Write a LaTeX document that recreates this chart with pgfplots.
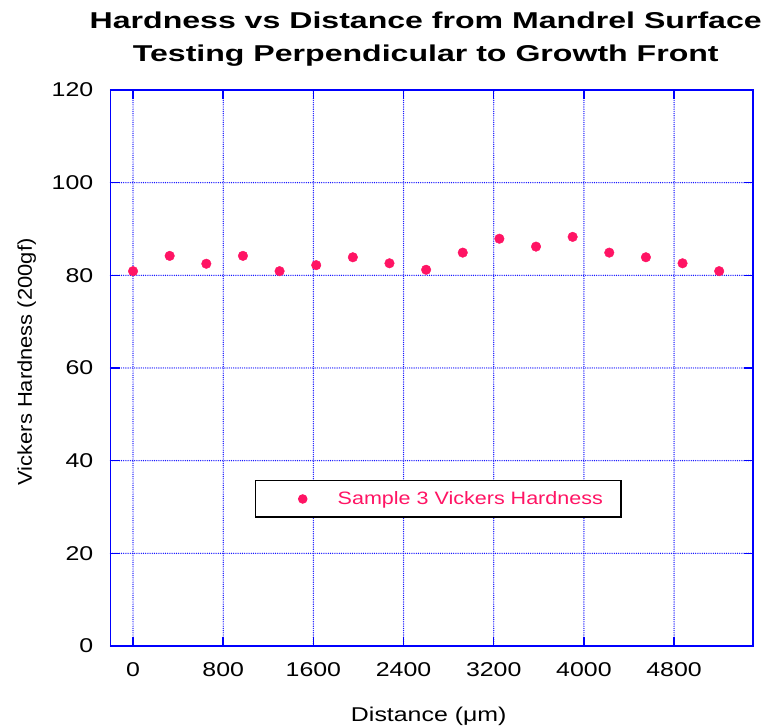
\documentclass[border=0pt]{standalone}
\usepackage{fontspec}
\setmainfont{Liberation Sans}[FakeStretch=1.25]
\newfontfamily\titlefont{Liberation Sans}[FakeStretch=1.4]
\newfontfamily\legfont{Liberation Sans}[FakeStretch=1.2]
\newfontfamily\ylabfont{Liberation Sans}[FakeStretch=1.1]
\usepackage{pgfplots}
\pgfplotsset{compat=1.18}
\definecolor{axblue}{RGB}{0,0,255}
\definecolor{gridblue}{RGB}{20,20,255}
\definecolor{ptpink}{RGB}{255,20,100}
\begin{document}
\begin{tikzpicture}
\path[use as bounding box] (0,0) rectangle (765bp,728bp);
\begin{axis}[
  at={(110.5bp,82bp)}, anchor=south west,
  scale only axis, width=642.5bp, height=556bp,
  xmin=-200, xmax=5500, ymin=0, ymax=120,
  xtick={0,800,...,4800}, ytick={0,20,...,120},
  grid=major,
  major grid style={draw=gridblue, line width=1.4bp, line cap=round, dash pattern=on 0bp off 2.2bp},
  axis line style={draw=axblue, line width=1.8bp},
  tick style={draw=axblue, line width=1.5bp},
  major tick length=9bp,
  tick align=inside,
  ticklabel style={font=\fontsize{20}{24}\selectfont},
  /pgf/number format/assume math mode=true,
  /pgf/number format/1000 sep={},
  xticklabel style={inner sep=0pt, anchor=north, yshift=-16bp},
  yticklabel style={inner sep=0pt, anchor=east, xshift=-17bp},
  title={Hardness vs Distance from Mandrel Surface\\Testing Perpendicular to Growth Front},
  title style={at={(axis description cs:0.5,1.031)}, anchor=south, inner sep=0pt, align=center, font=\titlefont\bfseries\fontsize{23}{33}\selectfont, xshift=-6bp},
  xlabel={Distance (μm)},
  xlabel style={at={(axis description cs:0.5,-0.1349)}, anchor=base, font=\fontsize{20}{24}\selectfont, xshift=-3bp},
  ylabel={Vickers Hardness (200gf)},
  ylabel style={at={(axis description cs:-0.1222,0.5108)}, anchor=base, font=\ylabfont\fontsize{20}{24}\selectfont},
  legend style={at={(0.2249,0.2986)}, anchor=north west, draw=black, line width=1.5bp, fill=white, inner xsep=0pt, inner ysep=11bp, nodes={inner sep=0pt, text=ptpink, font=\legfont\fontsize{18}{21}\selectfont}},
  legend image code/.code={\path[draw=none] (0bp,0bp) -- (82bp,0bp); \fill[ptpink, draw=none] (47bp,0bp) circle (4.8bp);},
]
\addplot[only marks, mark=*, mark size=4.8bp, color=ptpink] coordinates {
(0,80.9) (325,84.2) (650,82.5) (975,84.2) (1300,80.9) (1625,82.2) (1950,83.9) (2275,82.6) (2600,81.2) (2925,84.9) (3250,87.9) (3575,86.2) (3900,88.3) (4225,84.9) (4550,83.9) (4875,82.6) (5200,80.9)
};
\addlegendentry{Sample 3 Vickers Hardness\hspace*{18bp}}
\end{axis}
\end{tikzpicture}
\end{document}
